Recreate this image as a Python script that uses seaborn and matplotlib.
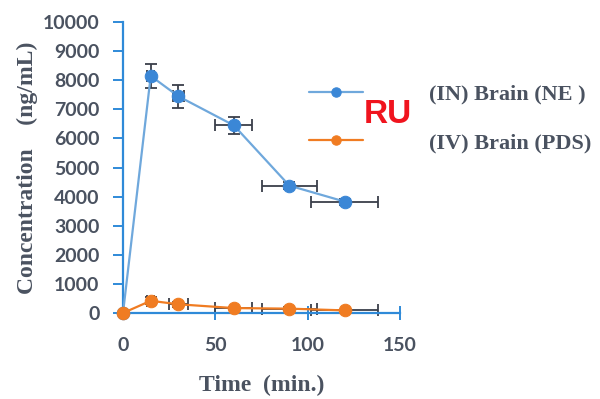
import numpy as np
import pandas as pd
import matplotlib.pyplot as plt
import seaborn as sns

#### data
time = [0, 15, 30, 60, 90, 120]
brain_ne = [0, 8150, 7450, 6450, 4380, 3830]
brain_ne_yerr = [0, 420, 400, 300, 120, 100]
brain_ne_xerr = [0, 2, 3, 10, 15, 18]
brain_pds = [0, 420, 300, 170, 150, 90]
brain_pds_yerr = [0, 120, 80, 40, 40, 30]
brain_pds_xerr = [0, 2, 5, 10, 15, 18]
labels = ['(IN) Brain (NE )', '(IV) Brain (PDS)']
yticks = [0, 1000, 2000, 3000, 4000, 5000, 6000, 7000, 8000, 9000, 10000]
xticks = [0, 50, 100, 150]

df = pd.DataFrame({'Time': time * 2,
                   'Conc': brain_ne + brain_pds,
                   'Group': [labels[0]] * len(time) + [labels[1]] * len(time)})

sns.set_theme(style='white')
plt.rcParams['font.family'] = ['Lato', 'DejaVu Sans']

blue_line = '#6fa8dc'
blue_mk = '#3b87d6'
orange = '#f07c22'
spine_col = '#2f8ad8'
text_col = '#4a5260'

fig = plt.figure(figsize=(6, 3.99), dpi=100)
ax = fig.add_axes([0.205, 0.2155, 0.462, 0.729])

# error bars first so the markers sit on top
ax.errorbar(time, brain_ne, yerr=brain_ne_yerr, xerr=brain_ne_xerr, fmt='none',
            ecolor='#3a3f4a', elinewidth=1.3, capsize=4, capthick=1.3, zorder=2, clip_on=False)
ax.errorbar(time, brain_pds, yerr=brain_pds_yerr, xerr=brain_pds_xerr, fmt='none',
            ecolor='#3a3f4a', elinewidth=1.3, capsize=4, capthick=1.3, zorder=2, clip_on=False)

sns.lineplot(data=df[df.Group == labels[0]], x='Time', y='Conc', ax=ax, color=blue_line,
             marker='o', markersize=9, markerfacecolor=blue_mk, markeredgecolor=blue_mk,
             linewidth=1.6, label=labels[0], zorder=3, clip_on=False)
sns.lineplot(data=df[df.Group == labels[1]], x='Time', y='Conc', ax=ax, color=orange,
             marker='o', markersize=9, markerfacecolor=orange, markeredgecolor=orange,
             linewidth=1.6, label=labels[1], zorder=3, clip_on=False)

ax.set_xlim(0, 150)
ax.set_ylim(0, 10000)
ax.set_xticks(xticks)
ax.set_yticks(yticks)
ax.set_xticklabels([str(t) for t in xticks])
ax.set_yticklabels([str(t) for t in yticks])

for side in ['top', 'right']:
    ax.spines[side].set_visible(False)
for side in ['left', 'bottom']:
    ax.spines[side].set_color(spine_col)
    ax.spines[side].set_linewidth(1.6)

ax.tick_params(axis='x', direction='inout', length=10, width=1.4, color=spine_col,
               labelsize=14, labelcolor=text_col, pad=12)
ax.tick_params(axis='y', direction='out', length=7, width=1.4, color=spine_col,
               labelsize=14, labelcolor=text_col, pad=10)
ax.tick_params(left=True, bottom=True)
for lab in ax.get_xticklabels() + ax.get_yticklabels():
    lab.set_fontweight('bold')

ax.set_xlabel('Time  (min.)', family='Liberation Serif', fontweight='bold',
              fontsize=17, color=text_col, labelpad=15)
ax.set_ylabel('Concentration    (ng/mL)', family='Liberation Serif', fontweight='bold',
              fontsize=17, color=text_col, labelpad=3)

leg = ax.legend(loc='upper left', bbox_to_anchor=(0.60, 0.855), frameon=False,
                handlelength=2.4, handletextpad=3.0, labelspacing=1.25, markerscale=0.75,
                prop={'family': 'Liberation Serif', 'weight': 'bold', 'size': 16})
for t in leg.get_texts():
    t.set_color(text_col)

fig.text(0.607, 0.712, 'RU', color='#f0141e', fontsize=24, fontweight='bold',
         family='Liberation Sans', ha='left', va='center')

plt.savefig('out.png', dpi=100)
